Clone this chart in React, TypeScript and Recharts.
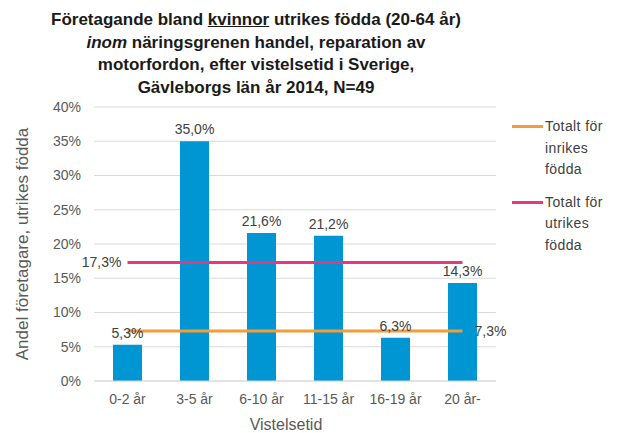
import {
  Bar,
  CartesianGrid,
  ComposedChart,
  LabelList,
  Line,
  XAxis,
  YAxis,
} from 'recharts'

// Företagande bland kvinnor utrikes födda, handel – Gävleborgs län 2014

const categories = ['0-2 år', '3-5 år', '6-10 år', '11-15 år', '16-19 år', '20 år-']
const shares = [5.3, 35.0, 21.6, 21.2, 6.3, 14.3]
const inrikesTotal = [7.3, 7.3, 7.3, 7.3, 7.3, 7.3]
const utrikesTotal = [17.3, 17.3, 17.3, 17.3, 17.3, 17.3]
const yTicks = [0, 5, 10, 15, 20, 25, 30, 35, 40]

const data = categories.map((c, i) => ({
  cat: c,
  share: shares[i],
  inrikes: inrikesTotal[i],
  utrikes: utrikesTotal[i],
}))

const FONT = '"Liberation Sans", Arial, sans-serif'
const BLUE = '#0096D3'
const ORANGE = '#F39C38'
const PINK = '#E6387C'
const TEXT = '#404040'
const AXIS = '#595959'

const pct = (v: number) => `${v.toFixed(1).replace('.', ',')}%`

function EndLabel(props: any) {
  const { x, y, value, index, side } = props
  const last = categories.length - 1
  if (side === 'right' && index !== last) return null
  if (side === 'left' && index !== 0) return null
  return (
    <text
      x={side === 'right' ? x + 12 : x - 6}
      y={y}
      textAnchor={side === 'right' ? 'start' : 'end'}
      dominantBaseline="central"
      fontSize={14}
      fill={TEXT}
      fontFamily={FONT}
    >
      {pct(Number(value))}
    </text>
  )
}

const legendItems = [
  { label: 'Totalt för inrikes födda', color: ORANGE },
  { label: 'Totalt för utrikes födda', color: PINK },
]

function SideLegend() {
  return (
    <div
      style={{
        position: 'absolute',
        left: 512,
        top: 116,
        fontFamily: FONT,
        fontSize: 14,
        letterSpacing: 0.4,
        color: TEXT,
        lineHeight: '21.5px',
      }}
    >
      {legendItems.map((it) => (
        <div key={it.label} style={{ display: 'flex', alignItems: 'flex-start', marginBottom: 11 }}>
          <span style={{ width: 31, height: 3, background: it.color, marginTop: 9, marginRight: 2 }} />
          <span style={{ width: 76, textAlign: 'left' }}>{it.label}</span>
        </div>
      ))}
    </div>
  )
}

export default function App() {
  return (
    <div style={{ position: 'absolute', left: 0, top: 0, width: 621, height: 433, background: '#fff' }}>
      <div
        style={{
          position: 'absolute',
          left: 0,
          top: 9,
          width: 512,
          textAlign: 'center',
          fontFamily: FONT,
          fontWeight: 'bold',
          fontSize: 17,
          lineHeight: '22.5px',
          color: '#1a1a1a',
        }}
      >
        Företagande bland <u>kvinnor</u> utrikes födda (20-64 år)
        <br />
        <i>inom</i> näringsgrenen handel, reparation av
        <br />
        motorfordon, efter vistelsetid i Sverige,
        <br />
        Gävleborgs län år 2014, N=49
      </div>
      <ComposedChart
        width={621}
        height={433}
        data={data}
        margin={{ top: 107, right: 125, bottom: 0, left: 0 }}
        barCategoryGap="58%"
        style={{ position: 'absolute', left: 0, top: 0 }}
      >
        <CartesianGrid vertical={false} stroke="#d9d9d9" />
        <XAxis
          dataKey="cat"
          height={52}
          tickLine={false}
          tickSize={0}
          tickMargin={13}
          axisLine={{ stroke: '#d9d9d9' }}
          tick={{ fontSize: 14, fill: AXIS, fontFamily: FONT }}
          interval={0}
          label={{
            value: 'Vistelsetid',
            position: 'insideBottom',
            offset: 3,
            dx: -9,
            fontSize: 16,
            fill: AXIS,
            fontFamily: FONT,
          }}
        />
        <YAxis
          width={94}
          domain={[0, 40]}
          ticks={yTicks}
          tickFormatter={(v) => `${v}%`}
          tickLine={false}
          tickSize={0}
          tickMargin={13}
          axisLine={false}
          tick={{ fontSize: 14, fill: AXIS, fontFamily: FONT }}
          label={{
            content: (p: any) => {
              const vb = p.viewBox
              const cy = vb.y + vb.height / 2
              return (
                <text
                  x={22}
                  y={cy}
                  transform={`rotate(-90, 22, ${cy})`}
                  textAnchor="middle"
                  dominantBaseline="central"
                  fontSize={17}
                  fill={AXIS}
                  fontFamily={FONT}
                >
                  Andel företagare, utrikes födda
                </text>
              )
            },
          }}
        />
        <Bar dataKey="share" fill={BLUE} barSize={29} isAnimationActive={false}>
          <LabelList
            dataKey="share"
            position="top"
            offset={7}
            formatter={(v: any) => pct(Number(v))}
            fill={TEXT}
            fontSize={14}
            fontFamily={FONT}
          />
        </Bar>
        <Line
          dataKey="inrikes"
          stroke={ORANGE}
          strokeWidth={3}
          dot={false}
          activeDot={false}
          isAnimationActive={false}
        >
          <LabelList dataKey="inrikes" content={(p: any) => <EndLabel {...p} side="right" />} />
        </Line>
        <Line
          dataKey="utrikes"
          stroke={PINK}
          strokeWidth={3}
          dot={false}
          activeDot={false}
          isAnimationActive={false}
        >
          <LabelList dataKey="utrikes" content={(p: any) => <EndLabel {...p} side="left" />} />
        </Line>
      </ComposedChart>
      <SideLegend />
    </div>
  )
}
